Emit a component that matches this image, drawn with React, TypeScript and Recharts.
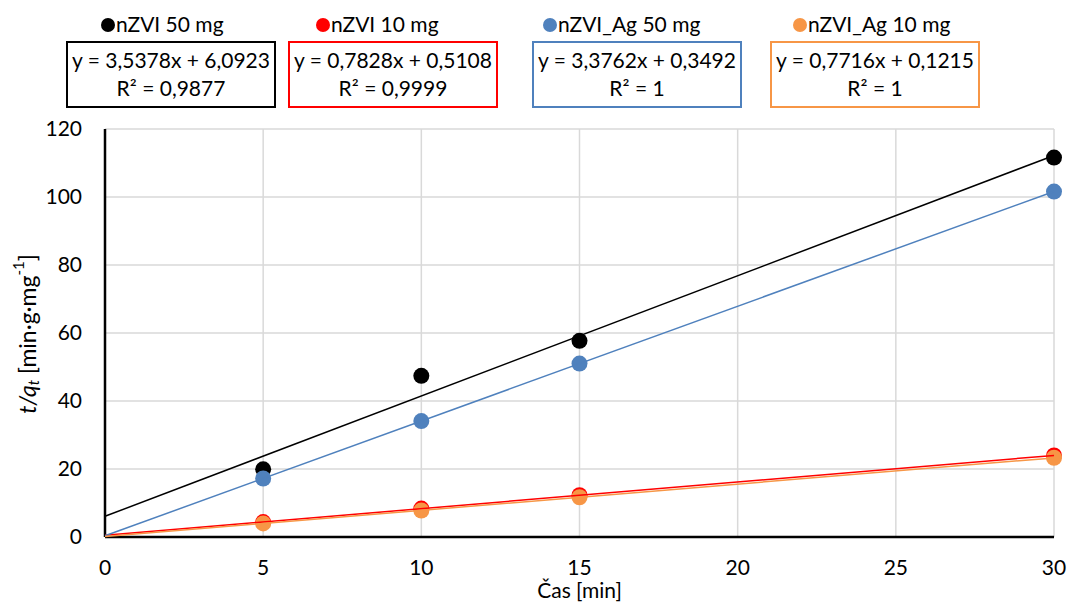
import { ComposedChart, Scatter, XAxis, YAxis, CartesianGrid } from 'recharts';

const FONT = 'Lato, "Open Sans", sans-serif';

const times = [5, 10, 15, 30];
const seriesNames = ['nZVI 50 mg', 'nZVI 10 mg', 'nZVI_Ag 50 mg', 'nZVI_Ag 10 mg'];
const seriesColors = ['#000000', '#ff0000', '#4f81bd', '#f79646'];

const nzvi50 = [19.9, 47.4, 57.7, 111.6];
const nzvi10 = [4.4, 8.35, 12.3, 24.0];
const nzviAg50 = [17.2, 34.1, 51.0, 101.6];
const nzviAg10 = [4.0, 7.8, 11.7, 23.3];

// linear fits shown in the equation boxes
const slopes = [3.5378, 0.7828, 3.3762, 0.7716];
const intercepts = [6.0923, 0.5108, 0.3492, 0.1215];
const slopeLabels = ['3,5378', '0,7828', '3,3762', '0,7716'];
const interceptLabels = ['6,0923', '0,5108', '0,3492', '0,1215'];
const r2Labels = ['0,9877', '0,9999', '1', '1'];

const xTicks = [0, 5, 10, 15, 20, 25, 30];
const yTicks = [0, 20, 40, 60, 80, 100, 120];
const fitRange = [0, 30];

const seriesValues = [nzvi50, nzvi10, nzviAg50, nzviAg10];
const pointSets = seriesValues.map((vals) => vals.map((y, i) => ({ x: times[i], y })));
const fitLines = slopes.map((m, i) => fitRange.map((x) => ({ x, y: m * x + intercepts[i] })));

// legend / equation box positions across the top
const legendDotX = [108, 323, 550, 800];
const boxLeft = [66, 288, 532, 770];
const BOX_W = 210;

const Dot = (color: string) => (props: any) =>
  <circle cx={props.cx} cy={props.cy} r={8} fill={color} />;

const NoDot = () => <g />;

const YLabel = () => {
  const cx = 27;
  const cy = 334;
  return (
    <text x={cx} y={cy} transform={`rotate(-90 ${cx} ${cy})`} textAnchor="middle"
      dominantBaseline="central" fontFamily={FONT} fontSize={23} fill="#000">
      <tspan fontStyle="italic">t/q</tspan>
      <tspan fontStyle="italic" fontSize={15} dy={6}>t</tspan>
      <tspan dy={-6}> [min·g·mg</tspan>
      <tspan fontSize={15} dy={-9}>-1</tspan>
      <tspan dy={9}>]</tspan>
    </text>
  );
};

export default function App() {
  return (
    <div style={{ position: 'absolute', left: 0, top: 0, width: 1068, height: 603, background: '#fff', fontFamily: FONT, overflow: 'hidden' }}>
      {seriesNames.map((name, i) => (
        <div key={name}>
          <div style={{ position: 'absolute', left: legendDotX[i] - 7, top: 18, width: 14, height: 14, borderRadius: 7, background: seriesColors[i] }} />
          <div style={{ position: 'absolute', left: legendDotX[i] + 8, top: 11, fontSize: 21, lineHeight: '26px', color: '#000' }}>{name}</div>
          <div style={{
            position: 'absolute', left: boxLeft[i], top: 41, width: BOX_W, height: 67, boxSizing: 'border-box',
            border: `2px solid ${seriesColors[i]}`, textAlign: 'center', fontSize: 21, lineHeight: '28px', paddingTop: 3, color: '#000',
          }}>
            <div>y = {slopeLabels[i]}x + {interceptLabels[i]}</div>
            <div>R² = {r2Labels[i]}</div>
          </div>
        </div>
      ))}
      <ComposedChart width={1068} height={603} margin={{ top: 129, right: 14, bottom: 0, left: 0 }}
        style={{ position: 'absolute', left: 0, top: 0 }}>
        <CartesianGrid stroke="#d9d9d9" strokeWidth={1.5} />
        <XAxis type="number" dataKey="x" domain={[0, 30]} ticks={xTicks} height={66}
          axisLine={{ stroke: '#000', strokeWidth: 2.5 }} tickLine={false} tickMargin={17}
          tick={{ fill: '#000', fontSize: 21, fontFamily: FONT }}
          label={{ value: 'Čas [min]', position: 'insideBottom', offset: 0, dy: -5, fill: '#000', fontSize: 21, fontFamily: FONT }} />
        <YAxis type="number" dataKey="y" domain={[0, 120]} ticks={yTicks} width={105}
          axisLine={{ stroke: '#000', strokeWidth: 2.5 }} tickLine={false} tickMargin={17}
          tick={{ fill: '#000', fontSize: 21, fontFamily: FONT }} label={<YLabel />} />
        {pointSets.map((pts, i) => (
          <Scatter key={`p${i}`} data={pts} fill={seriesColors[i]} shape={Dot(seriesColors[i])} isAnimationActive={false} />
        ))}
        {fitLines.map((pts, i) => (
          <Scatter key={`f${i}`} data={pts} line={{ stroke: seriesColors[i], strokeWidth: 1.5 }} shape={NoDot}
            isAnimationActive={false} />
        ))}
      </ComposedChart>
    </div>
  );
}
